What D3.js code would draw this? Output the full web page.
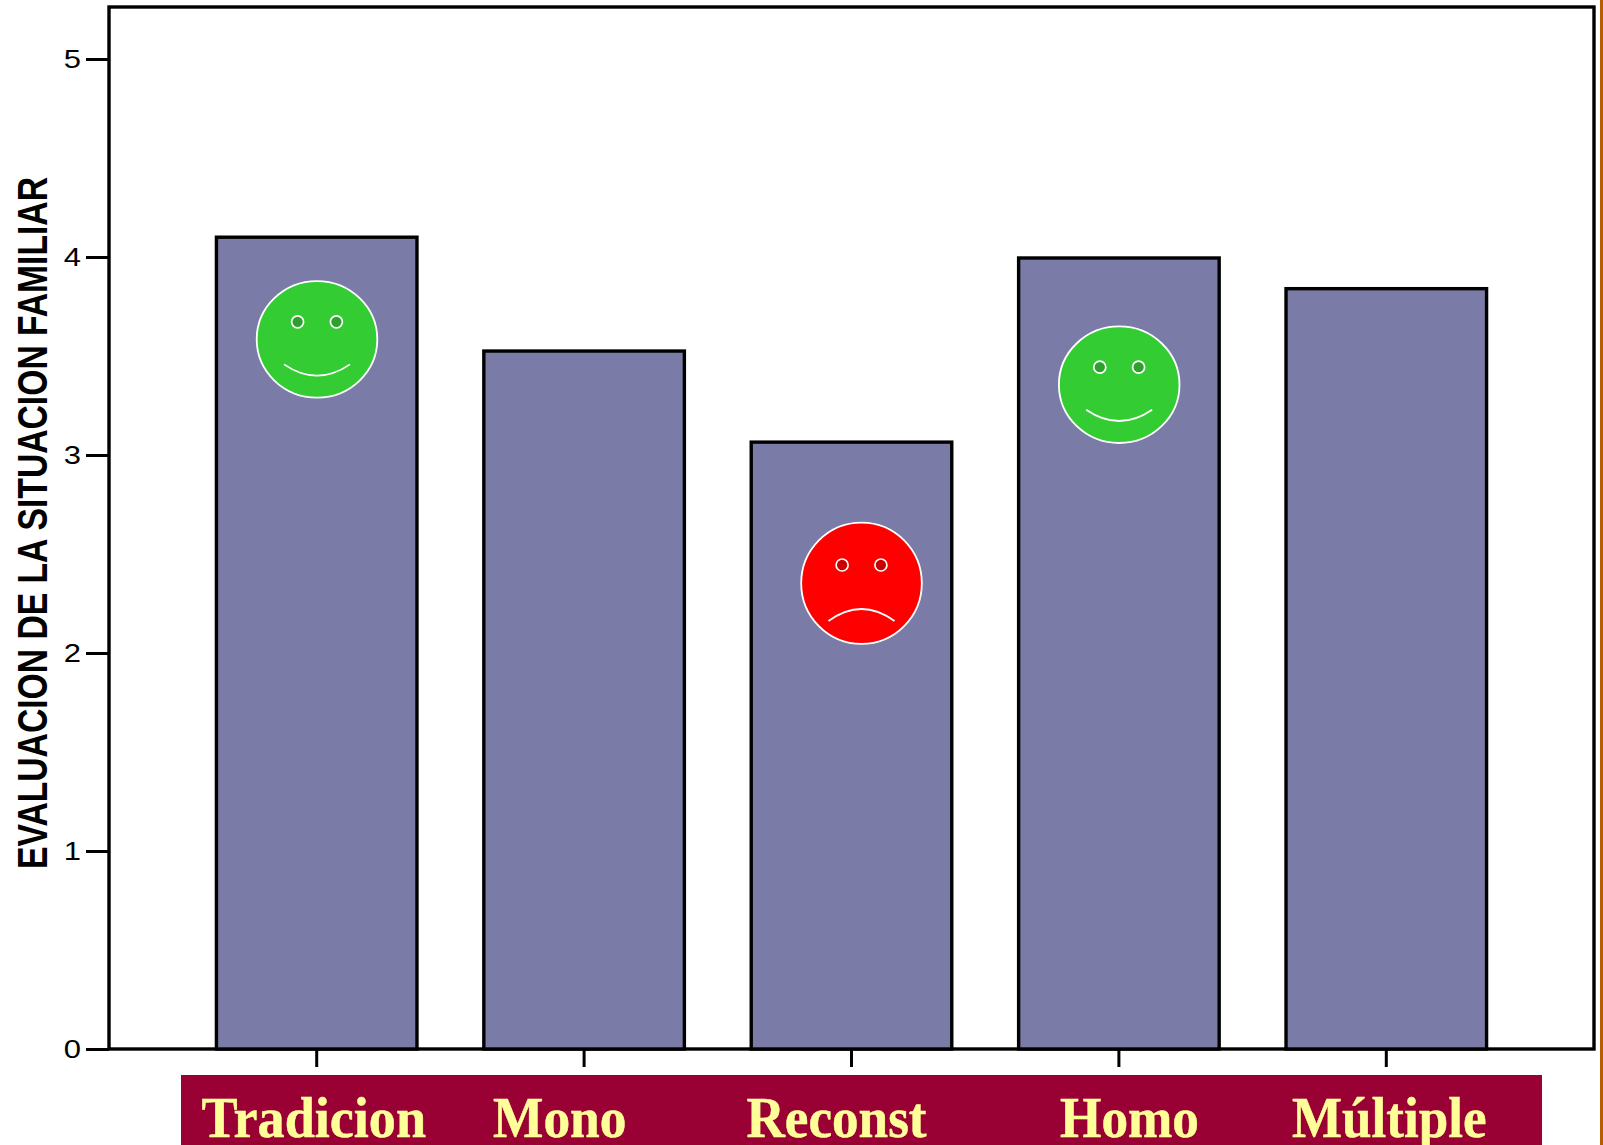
<!DOCTYPE html>
<html>
<head>
<meta charset="utf-8">
<script src="https://cdn.jsdelivr.net/npm/d3@7/dist/d3.min.js"></script>
<style>
html,body{margin:0;padding:0;background:#fff;overflow:hidden}
svg{display:block}
</style>
</head>
<body>
<svg id="chart" width="1603" height="1145"></svg>
<script>
const categories = ["Tradicion","Mono","Reconst","Homo","Múltiple"];
const values = [4.10,3.525,3.065,3.995,3.84];
const yTicks = [0,1,2,3,4,5];
const yTitle = "EVALUACION DE LA SITUACION FAMILIAR";
const faceCategories = ["Tradicion","Reconst","Homo"];
const faceValues = [3.584,2.352,3.355];
const faceMoods = ["happy","sad","happy"];

const W=1603,H=1145;
const L=109,R=1594,T=7,B=1049;
const svg=d3.select("#chart");
const x=d3.scaleBand().domain(categories).range([183,1520]).paddingInner(.25).paddingOuter(.125);
const y=d3.scaleLinear().domain([0,5]).range([B,59]);

// brown edge on the right
svg.append("rect").attr("x",1600).attr("y",0).attr("width",3).attr("height",H).attr("fill","#b85c00");

// frame
svg.append("rect").attr("x",L).attr("y",T).attr("width",R-L).attr("height",B-T)
  .attr("fill","#fff").attr("stroke","#000").attr("stroke-width",3.4);

// bars
svg.append("g").selectAll("rect").data(values).join("rect")
  .attr("x",(d,i)=>x(categories[i])).attr("y",d=>y(d))
  .attr("width",x.bandwidth()).attr("height",d=>B-y(d))
  .attr("fill","#7b7ba7").attr("stroke","#000").attr("stroke-width",3.4);

// y axis
const stretch=1.24;
const gy=svg.append("g").attr("transform",`translate(${L},0)`)
  .call(d3.axisLeft(y).tickValues(yTicks).tickFormat(d3.format("d")).tickSize(23));
gy.select(".domain").remove();
gy.selectAll("line").attr("stroke","#000").attr("stroke-width",3);
gy.selectAll("text")
  .attr("x",-28/stretch).attr("dy","0.33em")
  .attr("transform",`scale(${stretch},1)`)
  .attr("font-family","'Liberation Sans',Arial,sans-serif").attr("font-size",25).attr("fill","#000");

// x axis
const gx=svg.append("g").attr("transform",`translate(0,${B})`)
  .call(d3.axisBottom(x).tickFormat("").tickSize(18));
gx.select(".domain").remove();
gx.selectAll("line").attr("stroke","#000").attr("stroke-width",3);

// y title
svg.append("text").attr("transform",`translate(47,869) rotate(-90)`)
  .attr("font-family","'Liberation Sans',Arial,sans-serif").attr("font-weight","bold")
  .attr("font-size",43).attr("textLength",692).attr("lengthAdjust","spacingAndGlyphs")
  .attr("fill","#000").text(yTitle);

// banner
svg.append("rect").attr("x",181).attr("y",1075).attr("width",1361).attr("height",70).attr("fill","#990033");
const labelStart=[201.5,493,746.5,1060,1292];
const labelWidth=[224.5,133.5,180,139,194.5];
svg.append("g").selectAll("text").data(categories).join("text")
  .attr("x",(d,i)=>labelStart[i]).attr("y",1137)
  .attr("textLength",(d,i)=>labelWidth[i]).attr("lengthAdjust","spacingAndGlyphs")
  .attr("font-family","'Liberation Serif','Times New Roman',serif").attr("font-weight","bold")
  .attr("font-size",56).attr("fill","#ffff99").attr("stroke","#ffff99").attr("stroke-width",0.5).text(d=>d);

// faces
faceCategories.forEach((c,i)=>{
  const happy=faceMoods[i]==="happy";
  const cx=x(c)+x.bandwidth()/2+(happy?0.3:10);
  const cy=y(faceValues[i]);
  const g=svg.append("g").attr("transform",`translate(${cx},${cy})`);
  g.append("ellipse").attr("rx",60.3).attr("ry",happy?58.3:60.6)
    .attr("fill",happy?"#33cc33":"#ff0000").attr("stroke","#fff").attr("stroke-width",1.8);
  [-19.4,19.4].forEach(dx=>{
    g.append("circle").attr("cx",dx).attr("cy",happy?-17.5:-18.3).attr("r",6)
      .attr("fill",happy?"#2ea02e":"#c80000").attr("stroke","#fff").attr("stroke-width",1.7);
  });
  const p=d3.path();
  if(happy){p.moveTo(-33,25);p.quadraticCurveTo(0,47.6,33,25);}
  else{p.moveTo(-33,37.7);p.quadraticCurveTo(0,13.7,33,37.7);}
  g.append("path").attr("d",p.toString()).attr("fill","none").attr("stroke","#fff").attr("stroke-width",1.8);
});
</script>
</body>
</html>
